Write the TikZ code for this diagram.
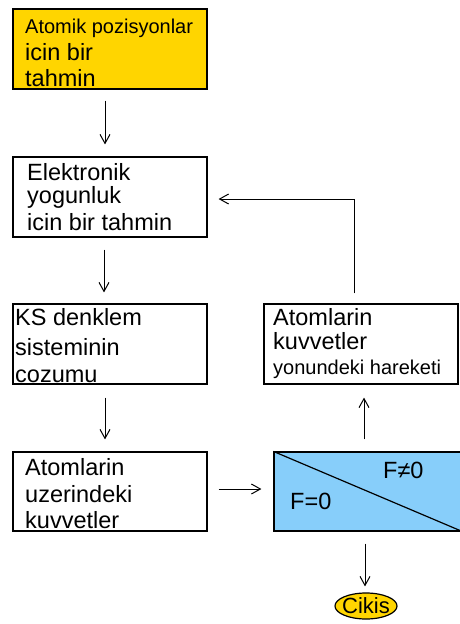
\documentclass[tikz,border=0pt]{standalone}
\usepackage{fontspec}
\setmainfont{Liberation Sans}
\usetikzlibrary{arrows.meta,calc,shapes.geometric}
\definecolor{boxyellow}{RGB}{255,213,0}
\definecolor{skyblue}{RGB}{135,206,250}
\tikzset{
  box/.style={draw=black,line width=1.2pt,rectangle,minimum width=194pt,minimum height=80pt,inner sep=0pt},
  arr/.style={line width=1pt,-{Straight Barb[length=9pt,width=10pt,line width=1pt]}},
  big/.style={anchor=base west,inner sep=0pt,font=\fontsize{23.5}{28}\selectfont},
  small/.style={anchor=base west,inner sep=0pt,font=\fontsize{20}{24}\selectfont},
}
\begin{document}
\begin{tikzpicture}[x=1pt,y=-1pt]
\useasboundingbox (0,0) rectangle (460,624);
% boxes
\node[box,fill=boxyellow] (b1) at (110,49) {};
\node[box] (b2) at (110,197) {};
\node[box] (b3) at (110,344) {};
\node[box,minimum height=79pt] (b4) at (110,491.5) {};
\node[box] (b5) at (361,344) {};
\node[box,fill=skyblue,minimum width=188pt,minimum height=79pt] (bl) at (368,491.5) {};
\draw[line width=1.2pt] (bl.north west) -- (bl.south east);
\node[draw=black,line width=1.2pt,fill=boxyellow,ellipse,minimum width=62pt,minimum height=26pt,inner sep=0pt] (ck) at (366,606) {};
% texts
\node[small] (t1a) at (25,33) {Atomik pozisyonlar};
\node[big] (t1b) at (25,60) {icin bir};
\node[big] (t1c) at (25,86) {tahmin};
\node[big] (t2a) at (27,180) {Elektronik};
\node[big] (t2b) at (27,203) {yogunluk};
\node[big] (t2c) at (27,230) {icin bir tahmin};
\node[big] (t3a) at (15,325) {KS denklem};
\node[big] (t3b) at (15,355) {sisteminin};
\node[big] (t3c) at (15,382) {cozumu};
\node[big] (t4a) at (25,475) {Atomlarin};
\node[big] (t4b) at (25,502) {uzerindeki};
\node[big] (t4c) at (25,528) {kuvvetler};
\node[big] (t5a) at (273,325) {Atomlarin};
\node[big] (t5b) at (273,349) {kuvvetler};
\node[small] (t5c) at (273,374) {yonundeki hareketi};
\node[big] (fn) at (383,478) {F≠0};
\node[big] (fe) at (290,509) {F=0};
\node[inner sep=0pt,font=\fontsize{22}{26}\selectfont] (ckt) at (ck.center) {Cikis};
% connectors
\draw[arr] ($(b1.south)+(-5,11)$) -- ($(b2.north)+(-5,-12)$);
\draw[arr] ($(b2.south)+(-6,12)$) -- ($(b3.north)+(-6,-11)$);
\draw[arr] ($(b3.south)+(-5,13)$) -- ($(b4.north)+(-5,-12)$);
\draw[arr] ($(b4.east)+(11,-2.5)$) -- ($(bl.west)+(-12,-2.5)$);
\draw[arr] ($(bl.north)+(-4,-12)$) -- ($(b5.south)+(3,13)$);
\draw[arr] ($(bl.south)+(-3,12)$) -- ($(ck.north)+(-1,-6)$);
\draw[arr] ($(b5.north)+(-7,-10)$) |- ($(b2.east)+(11,2)$);
\end{tikzpicture}
\end{document}
